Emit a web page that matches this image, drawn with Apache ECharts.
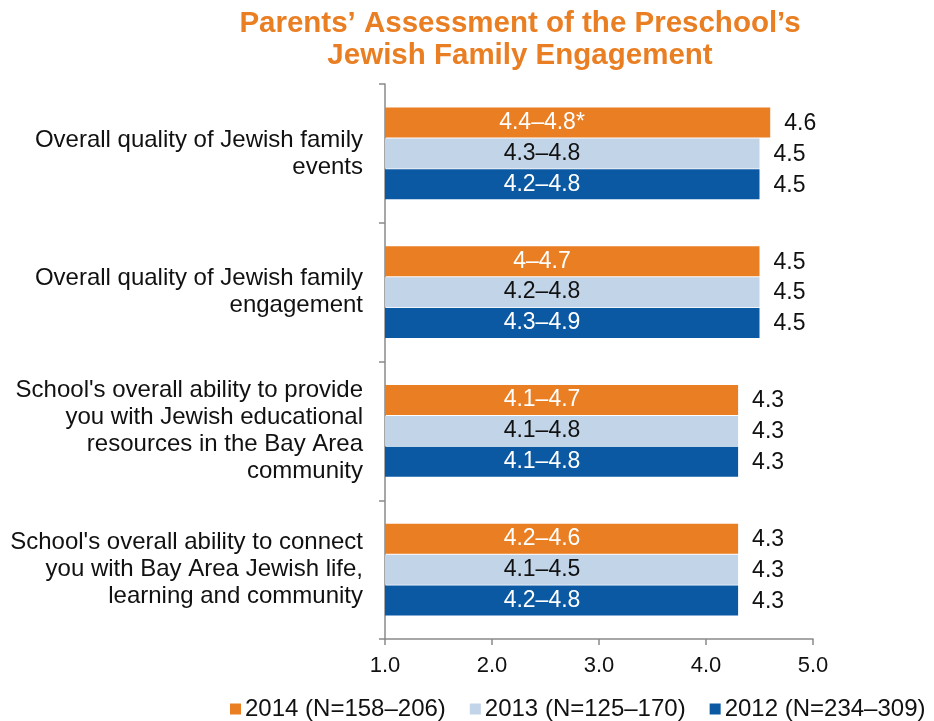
<!DOCTYPE html>
<html><head><meta charset="utf-8">
<script src="https://cdn.jsdelivr.net/npm/echarts@6/dist/echarts.min.js"></script>
<style>html,body{margin:0;padding:0;background:#fff}#c{width:934px;height:721px}</style>
</head><body><div id="c"></div>
<script>
const categories = [
  'Overall quality of Jewish family\nevents',
  'Overall quality of Jewish family\nengagement',
  "School's overall ability to provide\nyou with Jewish educational\nresources in the Bay Area\ncommunity",
  "School's overall ability to connect\nyou with Bay Area Jewish life,\nlearning and community"
];
const legendNames = ['2014 (N=158–206)', '2013 (N=125–170)', '2012 (N=234–309)'];
const values2014 = [4.6, 4.5, 4.3, 4.3];
const values2013 = [4.5, 4.5, 4.3, 4.3];
const values2012 = [4.5, 4.5, 4.3, 4.3];
const ranges2014 = ['4.4–4.8*', '4–4.7', '4.1–4.7', '4.2–4.6'];
const ranges2013 = ['4.3–4.8', '4.2–4.8', '4.1–4.8', '4.1–4.5'];
const ranges2012 = ['4.2–4.8', '4.3–4.9', '4.1–4.8', '4.2–4.8'];
const zeros = [0, 0, 0, 0];

const colors = ['#E97E22', '#C2D4E8', '#0B58A3'];
const rangeTextColors = ['#ffffff', '#111111', '#ffffff'];
const FONT = 'Liberation Sans, Arial, sans-serif';

const years = [
  { name: legendNames[0], values: values2014, ranges: ranges2014 },
  { name: legendNames[1], values: values2013, ranges: ranges2013 },
  { name: legendNames[2], values: values2012, ranges: ranges2012 }
];

const series = [];
years.forEach((y, i) => {
  series.push({
    name: y.name,
    type: 'bar',
    stack: 'g' + i,
    stackStrategy: 'all',
    barWidth: 30,
    barGap: '3%',
    data: y.values,
    itemStyle: { color: colors[i] },
    label: {
      show: true,
      position: [157, '50%'],
      align: 'center',
      verticalAlign: 'middle',
      fontFamily: FONT,
      fontSize: 23,
      color: rangeTextColors[i],
      formatter: p => y.ranges[p.dataIndex]
    },
    emphasis: { disabled: true }
  });
  series.push({
    name: 'val' + i,
    type: 'bar',
    stack: 'g' + i,
    stackStrategy: 'all',
    barWidth: 30,
    barGap: '3%',
    data: zeros,
    itemStyle: { color: 'rgba(0,0,0,0)' },
    silent: true,
    label: {
      show: true,
      position: 'right',
      distance: 14,
      offset: [0, 1],
      fontFamily: FONT,
      fontSize: 23,
      color: '#111111',
      formatter: p => y.values[p.dataIndex].toFixed(1)
    },
    emphasis: { disabled: true }
  });
});

const chart = echarts.init(document.getElementById('c'), null, { renderer: 'canvas' });
chart.setOption({
  animation: false,
  backgroundColor: '#ffffff',
  title: {
    text: 'Parents’ Assessment of the Preschool’s\nJewish Family Engagement',
    left: 515,
    top: 3,
    textAlign: 'center',
    textStyle: {
      fontFamily: FONT,
      fontWeight: 'bold',
      fontSize: 29.5,
      lineHeight: 32,
      color: '#E97E22'
    }
  },
  legend: {
    data: legendNames,
    left: 230,
    top: 697,
    padding: 0,
    itemWidth: 11,
    itemHeight: 11,
    itemGap: 24,
    icon: 'rect',
    textStyle: { fontFamily: FONT, fontSize: 24, color: '#111111', padding: [0, 0, 0, -1] },
    selectedMode: false
  },
  grid: { left: 385, right: 121, top: 84, bottom: 82, containLabel: false },
  xAxis: {
    type: 'value',
    min: 1,
    max: 5,
    interval: 1,
    splitLine: { show: false },
    axisLine: { show: true, lineStyle: { color: '#8a8a8a', width: 1.5 } },
    axisTick: { show: true, length: 6, lineStyle: { color: '#8a8a8a', width: 1.5 } },
    axisLabel: {
      fontFamily: FONT, fontSize: 22, color: '#111111', margin: 16,
      formatter: v => v.toFixed(1)
    }
  },
  yAxis: {
    type: 'category',
    inverse: true,
    data: categories,
    axisLine: { show: true, lineStyle: { color: '#8a8a8a', width: 1.5 } },
    axisTick: { show: true, length: 6, lineStyle: { color: '#8a8a8a', width: 1.5 } },
    axisLabel: {
      fontFamily: FONT, fontSize: 24, lineHeight: 27, color: '#111111', margin: 22, align: 'right'
    }
  },
  series: series
});
</script>
</body></html>
